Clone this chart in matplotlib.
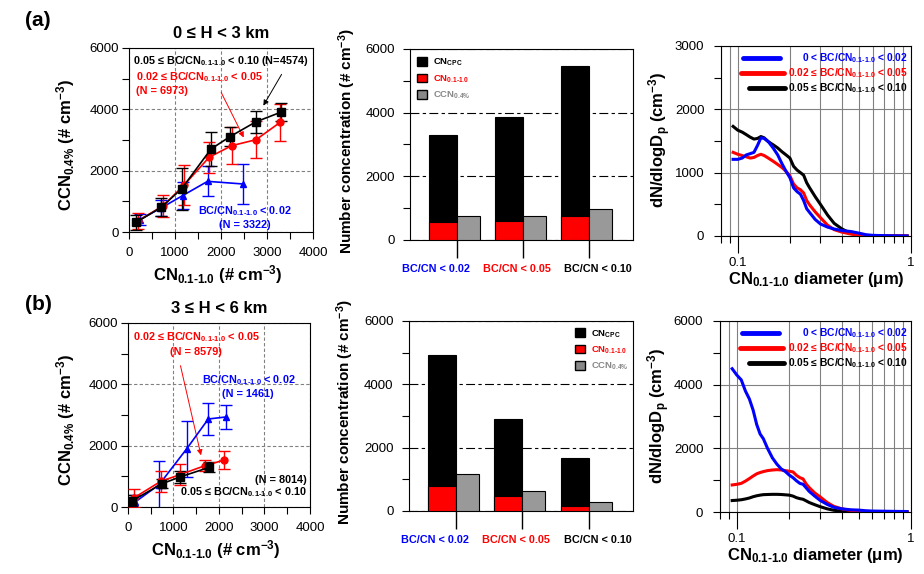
import matplotlib
matplotlib.use('Agg')
import matplotlib.pyplot as plt
from matplotlib.patches import Patch
from matplotlib.ticker import FixedLocator, FixedFormatter, MultipleLocator, NullFormatter

plt.rcParams['font.family'] = ['Liberation Sans', 'DejaVu Sans']
plt.rcParams['mathtext.fontset'] = 'custom'
plt.rcParams['mathtext.rm'] = 'Liberation Sans:bold'
plt.rcParams['mathtext.it'] = 'Liberation Sans:bold'
plt.rcParams['mathtext.bf'] = 'Liberation Sans:bold'
plt.rcParams['mathtext.sf'] = 'Liberation Sans:bold'
plt.rcParams['mathtext.default'] = 'rm'

# ---- CCN vs CN, 0-3 km ----
a_blk_x = [160, 705, 1142, 1782, 2196, 2756, 3309]
a_blk_y = [320, 810, 1405, 2705, 3110, 3590, 3910]
a_blk_e = [245, 300, 680, 540, 300, 365, 300]
a_red_x = [196, 742, 1200, 1745, 2233, 2764, 3287]
a_red_y = [359, 859, 1533, 2440, 2815, 3011, 3576]
a_red_e = [270, 360, 660, 500, 600, 600, 600]
a_blu_x = [233, 698, 1164, 1709, 2487]
a_blu_y = [402, 783, 1185, 1652, 1565]
a_blu_e = [180, 270, 450, 490, 660]

# ---- CCN vs CN, 3-6 km ----
b_blk_x = [96, 750, 1140, 1787]
b_blk_y = [207, 761, 978, 1293]
b_blk_e = [170, 140, 180, 165]
b_red_x = [125, 721, 1140, 1691, 2118]
b_red_y = [293, 837, 1054, 1348, 1533]
b_red_e = [300, 350, 350, 180, 290]
b_blu_x = [147, 684, 1287, 1765, 2147]
b_blu_y = [152, 728, 1891, 2870, 2935]
b_blu_e = [250, 780, 920, 530, 390]

# ---- bar charts ----
bar_cats = ['BC/CN < 0.02', 'BC/CN < 0.05', 'BC/CN < 0.10']
cat_colors = ['#0000ff', '#ff0000', 'black']
a_cpc = [3300, 3870, 5470]
a_cn = [575, 607, 765]
a_ccn = [745, 745, 965]
b_cpc = [4920, 2900, 1670]
b_cn = [800, 483, 167]
b_ccn = [1167, 630, 284]

# ---- size distributions ----
dp = [0.094, 0.10, 0.106, 0.112, 0.118, 0.124, 0.13, 0.136, 0.142, 0.15, 0.16, 0.17,
      0.18, 0.19, 0.20, 0.21, 0.22, 0.23, 0.24, 0.25, 0.26, 0.28, 0.30, 0.33, 0.36,
      0.40, 0.45, 0.50, 0.55, 0.60, 0.70, 0.80, 0.95]
a_sd_blu = [1210, 1210, 1230, 1280, 1300, 1320, 1430, 1550, 1540, 1490, 1390, 1280,
            1140, 1020, 920, 760, 700, 660, 560, 430, 370, 260, 190, 140, 110,
            85, 70, 45, 20, 10, 5, 2, 0]
a_sd_red = [1320, 1290, 1270, 1250, 1230, 1240, 1270, 1290, 1270, 1230, 1180, 1130,
            1080, 1020, 950, 820, 760, 730, 680, 560, 490, 380, 290, 170, 100,
            60, 30, 10, 5, 0, 0, 0, 0]
a_sd_blk = [1730, 1670, 1640, 1600, 1560, 1530, 1540, 1570, 1550, 1490, 1440, 1390,
            1330, 1280, 1230, 1100, 1040, 1000, 960, 840, 760, 620, 500, 330, 200,
            110, 40, 10, 3, 0, 0, 0, 0]
b_sd_blu = [4500, 4300, 4150, 3800, 3550, 3200, 2750, 2450, 2300, 2000, 1700, 1500,
            1350, 1270, 1160, 1080, 980, 900, 870, 760, 650, 500, 370, 240, 150,
            100, 70, 60, 40, 30, 25, 20, 15]
b_sd_red = [850, 870, 900, 970, 1050, 1130, 1200, 1240, 1270, 1300, 1320, 1330,
            1320, 1300, 1280, 1260, 1150, 1080, 1040, 880, 770, 600, 480, 300, 180,
            100, 50, 25, 15, 10, 8, 5, 5]
b_sd_blk = [360, 370, 385, 410, 440, 480, 510, 530, 545, 550, 555, 555,
            550, 540, 530, 500, 450, 420, 400, 350, 300, 230, 170, 100, 55,
            25, 10, 0, 0, 0, 0, 0, 0]

SUB = r'$_{0.1\text{-}1.0}$'
BLUE = '#0000ff'
RED = '#ff0000'
TICKFS = 9.5
LABFS = 12
ANNFS = 7.8

fig = plt.figure(figsize=(9.24, 5.74), dpi=100)


def scatter_panel(ax, blu, red, blk, title):
    for (x, y, e), c, m, ms in [(blu, BLUE, '^', 5), (red, RED, 'o', 5), (blk, 'black', 's', 5.5)]:
        ax.errorbar(x, y, yerr=e, color=c, marker=m, ms=ms, lw=1.2, elinewidth=1.0,
                    capsize=4.5, capthick=1.0, zorder=3)
    ax.set_xlim(0, 4000)
    ax.set_ylim(0, 6000)
    ax.xaxis.set_major_locator(MultipleLocator(1000))
    ax.xaxis.set_minor_locator(MultipleLocator(500))
    ax.yaxis.set_major_locator(MultipleLocator(2000))
    ax.yaxis.set_minor_locator(MultipleLocator(1000))
    ax.grid(True, which='major', color='#808080', ls=(0, (3, 2)), lw=0.8)
    ax.tick_params(which='both', direction='out', labelsize=TICKFS, length=5, width=0.8)
    ax.tick_params(axis='x', pad=6)
    ax.tick_params(axis='y', pad=2)
    ax.set_xlabel('CN' + SUB + r' (# cm$^{-3}$)', fontsize=LABFS, fontweight='bold')
    ax.set_ylabel(r'CCN$_{0.4\%}$ (# cm$^{-3}$)', fontsize=LABFS, fontweight='bold')
    ax.xaxis.set_label_coords(0.48, -0.23)
    ax.xaxis.label.set_va('center')
    ax.yaxis.set_label_coords(-0.345, 0.47)
    ax.yaxis.label.set_va('center')
    ax.set_title(title, fontsize=LABFS, fontweight='bold', pad=7)


def bar_panel(ax, cpc, cn, ccn, anchor):
    pos = list(range(len(bar_cats)))
    left = [p - 0.42 for p in pos]
    ax.bar(left, cpc, width=0.42, align='edge', color='black', edgecolor='black', lw=0.8, zorder=2)
    ax.bar(left, cn, width=0.42, align='edge', color=RED, edgecolor='black', lw=0.8, zorder=3)
    ax.bar(pos, ccn, width=0.35, align='edge', color='#999999', edgecolor='black', lw=0.8, zorder=3)
    ax.set_xlim(-0.71, 2.67)
    ax.set_ylim(0, 6000)
    ax.yaxis.set_major_locator(MultipleLocator(2000))
    ax.yaxis.set_minor_locator(MultipleLocator(1000))
    ax.set_axisbelow(True)
    ax.grid(True, axis='y', which='major', color='black', ls=(0, (8, 3, 3, 3)), lw=0.8)
    ax.set_xticks(pos, labels=['', '', ''])
    # category names sit a little apart from their ticks, as in the original
    for xc, lab, c in zip([-0.32, 0.91, 2.14], bar_cats, cat_colors):
        ax.text(xc, -0.152, lab, transform=ax.get_xaxis_transform(), ha='center', va='center',
                color=c, fontsize=7.8, fontweight='bold')
    ax.tick_params(axis='x', length=13, width=1.0)
    ax.tick_params(axis='y', which='both', length=5, width=0.8, labelsize=TICKFS, pad=6)
    ax.set_ylabel(r'Number concentration (# cm$^{-3}$)', fontsize=11, fontweight='bold')
    ax.yaxis.set_label_coords(-0.283, 0.52)
    ax.yaxis.label.set_va('center')
    handles = [Patch(facecolor='black', edgecolor='black'),
               Patch(facecolor=RED, edgecolor='black'),
               Patch(facecolor='#888888', edgecolor='black')]
    labels = [r'CN$_{CPC}$', 'CN' + SUB, r'CCN$_{0.4\%}$']
    leg = ax.legend(handles, labels, loc='upper left', bbox_to_anchor=anchor, frameon=False,
                    borderaxespad=0, borderpad=0,
                    handlelength=1.06, handleheight=1.06, handletextpad=0.6,
                    labelspacing=0.5, prop={'size': 6.8, 'weight': 'bold'})
    for t, c in zip(leg.get_texts(), ['black', RED, '#888888']):
        t.set_color(c)


def sd_panel(ax, blu, red, blk, ymax, ystep):
    ax.plot(dp, blk, color='black', lw=2.2, zorder=3)
    ax.plot(dp, red, color=RED, lw=2.2, zorder=4)
    ax.plot(dp, blu, color=BLUE, lw=2.2, zorder=5)
    ax.set_xscale('log')
    ax.set_xlim(0.08, 1)
    ax.set_ylim(0, ymax)
    ax.xaxis.set_major_locator(FixedLocator([0.1, 1]))
    ax.xaxis.set_major_formatter(FixedFormatter(['0.1', '1']))
    ax.xaxis.set_minor_locator(FixedLocator([0.08, 0.09, 0.2, 0.3, 0.4, 0.5, 0.6, 0.7, 0.8, 0.9]))
    ax.xaxis.set_minor_formatter(NullFormatter())
    ax.yaxis.set_major_locator(MultipleLocator(ystep))
    ax.yaxis.set_minor_locator(MultipleLocator(ystep / 2))
    ax.grid(True, axis='x', which='both', color='#808080', lw=0.8)
    ax.grid(True, axis='y', which='major', color='#808080', lw=0.8)
    ax.tick_params(axis='x', which='major', length=12, width=0.8, labelsize=TICKFS, pad=3)
    ax.tick_params(axis='x', which='minor', length=5, width=0.8)
    ax.tick_params(axis='y', which='both', length=5, width=0.8, labelsize=TICKFS, pad=7)
    ax.set_xlabel('CN' + SUB + r' diameter ($\mu$m)', fontsize=LABFS, fontweight='bold')
    ax.set_ylabel(r'dN/dlogD$_p$ (cm$^{-3}$)', fontsize=LABFS, fontweight='bold')
    ax.xaxis.set_label_coords(0.5, -0.228)
    ax.xaxis.label.set_va('center')
    ax.yaxis.set_label_coords(-0.32, 0.505)
    ax.yaxis.label.set_va('center')
    entries = [(BLUE, '0 < BC/CN' + SUB + ' < 0.02', 0.116, 0.31, 0.937),
               (RED, '0.02 ≤ BC/CN' + SUB + ' < 0.05', 0.105, 0.33, 0.858),
               ('black', '0.05 ≤ BC/CN' + SUB + ' < 0.10', 0.15, 0.335, 0.779)]
    for c, lab, x0, x1, yy in entries:
        ax.plot([x0, x1], [yy, yy], transform=ax.transAxes, color=c, lw=3.5,
                solid_capstyle='round', zorder=6)
        ax.text(0.985, yy, lab, transform=ax.transAxes, ha='right', va='center',
                color=c, fontsize=7.4, fontweight='bold', zorder=6)


# ---- row (a) ----
ax1 = fig.add_axes([0.1396, 0.5958, 0.1991, 0.3206])
scatter_panel(ax1, (a_blu_x, a_blu_y, a_blu_e), (a_red_x, a_red_y, a_red_e),
              (a_blk_x, a_blk_y, a_blk_e), '0 ≤ H < 3 km')
ax1.text(90, 5576, '0.05 ≤ BC/CN' + SUB + ' < 0.10 (N=4574)', fontsize=ANNFS,
         fontweight='bold', ha='left', va='center', color='black')
ax1.text(152, 5054, '0.02 ≤ BC/CN' + SUB + ' < 0.05', fontsize=ANNFS,
         fontweight='bold', ha='left', va='center', color=RED)
ax1.text(152, 4598, '(N = 6973)', fontsize=ANNFS, fontweight='bold', ha='left', va='center', color=RED)
ax1.text(2522, 685, 'BC/CN' + SUB + ' < 0.02', fontsize=ANNFS, fontweight='bold',
         ha='center', va='center', color=BLUE)
ax1.text(2522, 228, '(N = 3322)', fontsize=ANNFS, fontweight='bold', ha='center', va='center', color=BLUE)
ax1.annotate('', xy=(2891, 4043), xytext=(3348, 5217),
             arrowprops=dict(arrowstyle='-|>', color='black', lw=0.7, mutation_scale=8))
ax1.annotate('', xy=(2522, 3000), xytext=(1978, 4630),
             arrowprops=dict(arrowstyle='-|>', color=RED, lw=0.7, mutation_scale=8))

ax2 = fig.add_axes([0.4437, 0.5819, 0.2413, 0.3328])
bar_panel(ax2, a_cpc, a_cn, a_ccn, (0.031, 0.958))

ax3 = fig.add_axes([0.7803, 0.5889, 0.2056, 0.331])
sd_panel(ax3, a_sd_blu, a_sd_red, a_sd_blk, 3000, 1000)

# ---- row (b) ----
ax4 = fig.add_axes([0.1385, 0.1167, 0.197, 0.3206])
scatter_panel(ax4, (b_blu_x, b_blu_y, b_blu_e), (b_red_x, b_red_y, b_red_e),
              (b_blk_x, b_blk_y, b_blk_e), '3 ≤ H < 6 km')
ax4.text(1495, 5543, '0.02 ≤ BC/CN' + SUB + ' < 0.05', fontsize=ANNFS,
         fontweight='bold', ha='center', va='center', color=RED)
ax4.text(1495, 5054, '(N = 8579)', fontsize=ANNFS, fontweight='bold', ha='center', va='center', color=RED)
ax4.text(2659, 4141, 'BC/CN' + SUB + ' < 0.02', fontsize=ANNFS, fontweight='bold',
         ha='center', va='center', color=BLUE)
ax4.text(2637, 3685, '(N = 1461)', fontsize=ANNFS, fontweight='bold', ha='center', va='center', color=BLUE)
ax4.text(3934, 880, '(N = 8014)', fontsize=ANNFS, fontweight='bold', ha='right', va='center', color='black')
ax4.text(3934, 489, '0.05 ≤ BC/CN' + SUB + ' < 0.10', fontsize=ANNFS,
         fontweight='bold', ha='right', va='center', color='black')
ax4.annotate('', xy=(1618, 1598), xytext=(1140, 4696),
             arrowprops=dict(arrowstyle='-|>', color=RED, lw=0.7, mutation_scale=8))

ax5 = fig.add_axes([0.4426, 0.1098, 0.2424, 0.331])
bar_panel(ax5, b_cpc, b_cn, b_ccn, (0.741, 0.963))

ax6 = fig.add_axes([0.7792, 0.108, 0.2067, 0.3328])
sd_panel(ax6, b_sd_blu, b_sd_red, b_sd_blk, 6000, 2000)

fig.text(25 / 924, 1 - 20 / 574, '(a)', fontsize=15, fontweight='bold', ha='left', va='center')
fig.text(25 / 924, 1 - 305 / 574, '(b)', fontsize=15, fontweight='bold', ha='left', va='center')

fig.savefig('out.png', dpi=100)
